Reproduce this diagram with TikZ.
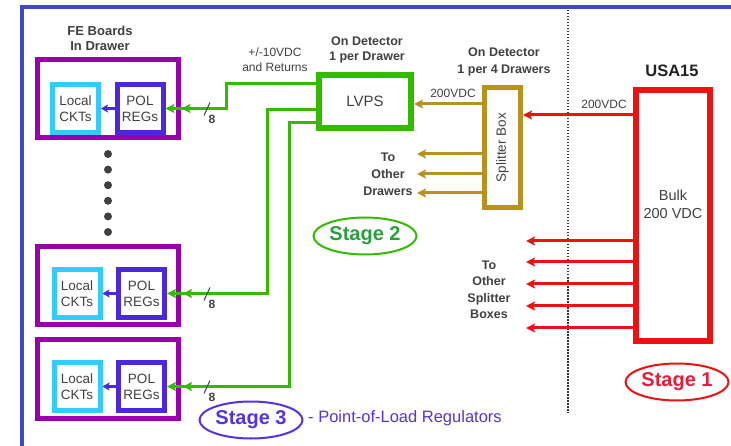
\documentclass[tikz,border=0pt]{standalone}
\usepackage{fontspec}
\setmainfont{Liberation Sans}
\usetikzlibrary{arrows.meta,shapes.geometric}
\definecolor{purp}{RGB}{153,0,170}
\definecolor{cyanc}{RGB}{51,204,255}
\definecolor{polc}{RGB}{76,40,220}
\definecolor{grn}{RGB}{51,187,0}
\definecolor{gold}{RGB}{184,146,30}
\definecolor{redc}{RGB}{238,17,17}
\definecolor{frame}{RGB}{64,72,200}
\definecolor{txt}{RGB}{64,64,64}
\definecolor{st2}{RGB}{40,160,60}
\definecolor{st3}{RGB}{85,51,221}
\definecolor{st1}{RGB}{230,30,60}
\newcommand{\fsz}[2]{\fontsize{#1}{#2}\selectfont}
\begin{document}
\begin{tikzpicture}[x=1pt,y=-1pt,
  drawer/.style={draw=purp, line width=5pt, minimum width=141pt, minimum height=78pt, inner sep=0pt},
  localbox/.style={draw=cyanc, line width=5pt, minimum width=46pt, minimum height=48pt, inner sep=0pt, align=center, font=\fsz{13.5}{16}, text=txt},
  polbox/.style={localbox, draw=polc},
  lbl/.style={text=txt, align=center, inner sep=0pt},
  gline/.style={draw=grn, line width=3pt},
  garrow/.style={gline, -{Stealth[length=9pt,width=9pt,inset=2pt,sep=7pt]Stealth[length=9pt,width=9pt,inset=2pt]}},
  goldarrow/.style={draw=gold, line width=3pt, -{Stealth[length=9pt,width=9pt,inset=2pt]}},
  redarrow/.style={draw=redc, line width=3pt, -{Stealth[length=9pt,width=9pt,inset=2pt]}},
  bluearrow/.style={draw=polc, line width=3pt, -{Stealth[length=7pt,width=8pt,inset=1.5pt]}},
  slash/.style={draw=txt, line width=1pt},
  stage/.style={ellipse, line width=2pt, minimum width=103pt, minimum height=37pt, inner sep=0pt, font=\bfseries\fsz{20}{24}},
  dotc/.style={fill=txt}
]
\useasboundingbox (0,0) rectangle (731,446);
\fill[white] (0,0) rectangle (731,446);

% outer frame
\draw[frame, line width=3.5pt] (22,446) -- (22,7) -- (731,7);

% dotted separator
\draw[draw={rgb,255:red,50;green,50;blue,50}, line width=2pt, dash pattern=on 1.5pt off 1.5pt] (568,10) -- (568,413);

% drawers
\node[lbl, font=\bfseries\fsz{13}{15}] (fe) at (100,38) {FE Boards\\In Drawer};
\node[drawer] (d1) at (108,99) {};
\node[drawer] (d2) at (108,285.5) {};
\node[drawer] (d3) at (108,379) {};
\node[localbox] (l1) at (75.5,108.5) {Local\\CKTs};
\node[polbox] (p1) at (140,108.5) {POL\\REGs};
\node[localbox] (l2) at (77,293.5) {Local\\CKTs};
\node[polbox] (p2) at (141.5,293.5) {POL\\REGs};
\node[localbox] (l3) at (77,386.5) {Local\\CKTs};
\node[polbox] (p3) at (141.5,386.5) {POL\\REGs};
\draw[bluearrow] (p1.west) -- (l1.east);
\draw[bluearrow] (p2.west) -- (l2.east);
\draw[bluearrow] (p3.west) -- (l3.east);

% dots
\foreach \i in {0,...,5} \fill[txt] (108,154+15.6*\i) circle (4pt);

% LVPS
\node[lbl, font=\bfseries\fsz{12.5}{15}] (od1) at (367,50) {On Detector\\1 per Drawer};
\node[draw=grn, line width=6pt, minimum width=92pt, minimum height=53pt, inner sep=0pt, text=txt, font=\fsz{15}{18}] (lvps) at (365,101.5) {LVPS};
\node[lbl, font=\fsz{12}{15}] (ret) at (275,60) {+/-10VDC\\and Returns};

% green connectors
\coordinate (g1) at (lvps.west |- 0,84);
\coordinate (g2) at (lvps.west |- 0,110);
\coordinate (g3) at (lvps.west |- 0,123);
\draw[garrow] (g1) -- (226,84) -- (226,108.5) -- (p1.east);
\draw[garrow] (g2) -- (267,110) -- (267,293.5) -- (p2.east);
\draw[garrow] (g3) -- (289,123) -- (289,386.5) -- (p3.east);
\foreach \y/\n in {108.5/a,293.5/b,386.5/c}{
  \draw[slash] (204,\y+7) -- (210,\y-6);
  \node[lbl, font=\bfseries\fsz{12}{13}] (eight\n) at (212,\y+11) {8};
}

% splitter
\node[lbl, font=\bfseries\fsz{12.5}{16.5}] (od2) at (504,62) {On Detector\\1 per 4 Drawers};
\node[draw=gold, line width=5pt, minimum width=36pt, minimum height=120pt, inner sep=0pt] (spl) at (502.5,147.5) {};
\node[lbl, rotate=90, font=\fsz{13.5}{16}] (spltxt) at (spl.center) {Splitter Box};
\draw[goldarrow] (spl.west |- 0,104) -- (lvps.east |- 0,104);
\node[lbl, font=\fsz{12}{14}] (v1) at (453,93) {200VDC};
\coordinate (o1) at (417,154);
\coordinate (o2) at (417,174);
\coordinate (o3) at (417,193);
\draw[goldarrow] (spl.west |- o1) -- (o1);
\draw[goldarrow] (spl.west |- o2) -- (o2);
\draw[goldarrow] (spl.west |- o3) -- (o3);
\node[lbl, font=\bfseries\fsz{12.5}{17}] (tod) at (388,174) {To\\Other\\Drawers};

% USA15 bulk
\node[lbl, font=\bfseries\fsz{16.5}{20}, text={rgb,255:red,34;green,34;blue,34}] (usa) at (672,71) {USA15};
\node[draw=redc, line width=6pt, minimum width=74pt, minimum height=251pt, inner sep=0pt] (bulk) at (673,215.5) {};
\node[lbl, font=\fsz{14.5}{18}] (bulktxt) at (673,204) {Bulk\\200 VDC};
\draw[redarrow] (bulk.west |- 0,115) -- (spl.east |- 0,115);
\node[lbl, font=\fsz{12}{14}] (v2) at (604,104) {200VDC};
\foreach \y/\n in {241/a,262/b,284/c,306/d,328/e}{
  \coordinate (r\n) at (526,\y);
  \draw[redarrow] (bulk.west |- r\n) -- (r\n);
}
\node[lbl, font=\bfseries\fsz{12.5}{16.5}] (tos) at (489,290) {To\\Other\\Splitter\\Boxes};

% stages
\node[stage, draw=redc, text=st1] (s1) at (677,382) {Stage 1};
\node[stage, draw=grn, text=st2] (s2) at (365,236) {Stage 2};
\node[stage, draw=st3, text=st3] (s3) at (251,420) {Stage 3};
\node[anchor=west, inner sep=0pt, text=st3, font=\fsz{16.5}{18}] (polr) at (308,418) {- Point-of-Load Regulators};
\end{tikzpicture}
\end{document}
